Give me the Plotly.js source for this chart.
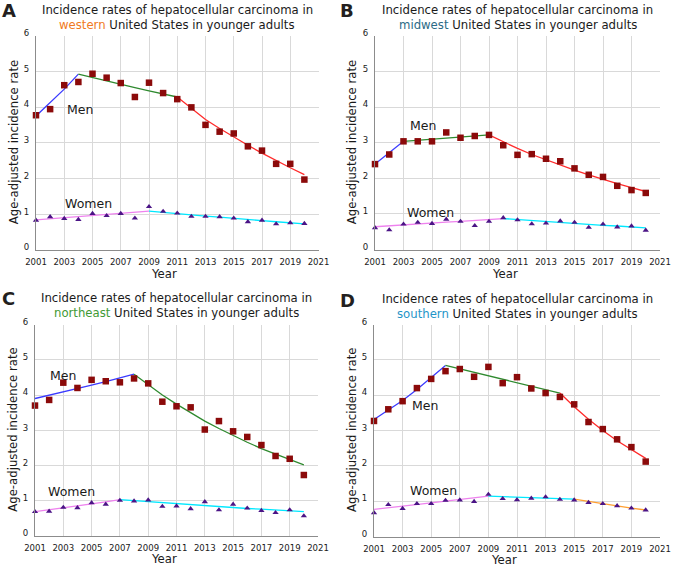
<!DOCTYPE html>
<html><head><meta charset="utf-8">
<script src="https://cdn.plot.ly/plotly-3.0.1.min.js"></script>
<style>html,body{margin:0;padding:0;background:#fff}#chart{width:674px;height:567px}</style>
</head><body><div id="chart"></div>
<script>
// ---------- data ----------
const years = [2001,2002,2003,2004,2005,2006,2007,2008,2009,2010,2011,2012,2013,2014,2015,2016,2017,2018,2019,2020];

const regions = ["western","midwest","northeast","southern"];
const panelLetters = ["A","B","C","D"];
const titleLine1 = "Incidence rates of hepatocellular carcinoma in";
const titleLine2Rest = " United States in younger adults";
const yTitle = "Age-adjusted incidence rate";
const xTitle = "Year";
const menLabel = "Men";
const womenLabel = "Women";

// observed rates
const menA   = [3.77,3.94,4.61,4.70,4.93,4.82,4.67,4.28,4.68,4.39,4.22,3.99,3.50,3.31,3.26,2.90,2.78,2.41,2.41,1.97];
const womenA = [0.83,0.93,0.88,0.85,1.02,0.96,1.02,0.89,1.21,1.08,1.03,0.94,0.94,0.93,0.89,0.79,0.83,0.73,0.76,0.74];
const menB   = [2.40,2.67,3.04,3.04,3.04,3.29,3.14,3.19,3.22,2.93,2.66,2.68,2.55,2.48,2.28,2.10,2.04,1.79,1.67,1.59];
const womenB = [0.61,0.55,0.71,0.76,0.73,0.85,0.79,0.67,0.79,0.89,0.83,0.72,0.74,0.80,0.76,0.62,0.71,0.63,0.66,0.54];
const menC   = [3.70,3.86,4.35,4.20,4.43,4.39,4.36,4.47,4.33,3.81,3.68,3.65,3.02,3.26,2.97,2.81,2.58,2.27,2.19,1.73];
const womenC = [0.69,0.70,0.81,0.80,0.94,0.90,1.01,0.99,1.02,0.84,0.85,0.77,0.97,0.74,0.90,0.79,0.72,0.66,0.74,0.57];
const menD   = [3.27,3.60,3.83,4.20,4.46,4.68,4.74,4.52,4.80,4.34,4.51,4.19,4.06,3.95,3.74,3.24,3.04,2.75,2.53,2.12];
const womenD = [0.67,0.90,0.79,0.93,0.93,1.02,1.03,0.99,1.19,1.07,1.04,1.08,1.12,1.05,1.03,0.96,0.93,0.87,0.80,0.75];

// joinpoint fitted values and segment break years
const fitMenA   = [3.75,4.12,4.50,4.92,4.82,4.73,4.63,4.54,4.45,4.36,4.28,3.97,3.65,3.40,3.16,2.93,2.71,2.50,2.30,2.11];
const breaksMenA = [2001,2004,2011,2020];
const fitWomenA = [0.84,0.87,0.90,0.93,0.96,0.99,1.02,1.05,1.09,1.05,1.02,0.98,0.95,0.92,0.88,0.85,0.82,0.79,0.76,0.73];
const breaksWomenA = [2001,2009,2020];

const fitMenB   = [2.40,2.71,3.04,3.07,3.10,3.13,3.16,3.19,3.22,3.02,2.84,2.67,2.52,2.37,2.23,2.10,1.97,1.85,1.74,1.63];
const breaksMenB = [2001,2003,2009,2020];
const fitWomenB = [0.64,0.67,0.69,0.72,0.74,0.77,0.79,0.82,0.84,0.87,0.84,0.81,0.79,0.76,0.74,0.71,0.68,0.66,0.63,0.61];
const breaksWomenB = [2001,2010,2020];

const fitMenC   = [3.90,3.99,4.08,4.18,4.28,4.38,4.48,4.59,4.29,4.00,3.74,3.49,3.26,3.05,2.85,2.66,2.48,2.32,2.17,2.02];
const breaksMenC = [2001,2008,2020];
const fitWomenC = [0.69,0.74,0.80,0.85,0.91,0.97,1.03,1.00,0.97,0.94,0.91,0.89,0.86,0.83,0.81,0.78,0.76,0.73,0.71,0.69];
const breaksWomenC = [2001,2007,2020];

const fitMenD   = [3.31,3.57,3.85,4.16,4.49,4.84,4.74,4.64,4.54,4.44,4.35,4.25,4.16,4.06,3.67,3.32,3.00,2.71,2.45,2.21];
const breaksMenD = [2001,2006,2014,2020];
const fitWomenD = [0.77,0.81,0.86,0.90,0.95,1.00,1.04,1.09,1.14,1.13,1.12,1.10,1.09,1.08,1.06,0.99,0.93,0.86,0.80,0.75];
const breaksWomenD = [2001,2009,2015,2020];

// label positions (data coords)
const menLabelPos   = [[2004.1,3.94],[2004.35,3.48],[2003.0,4.56],[2004.6,3.70]];
const womenLabelPos = [[2004.7,1.31],[2004.9,1.04],[2003.55,1.26],[2005.15,1.31]];

// ---------- styles ----------
const menSegColors = ["#3b3bff","#2f8a2f","#ff2b2b"];
const womenSegColors = ["#ee82ee","#00e8ff","#ffa033"];
const regionColors = ["#f07a22","#2b6a86","#3f9a35","#1f95c8"];
const FONT = "DejaVu Sans, Verdana, sans-serif";
const TICKFONT = "DejaVu Sans Condensed, DejaVu Sans, sans-serif";

const panels = [
  {men:menA, women:womenA, fm:fitMenA, bm:breaksMenA, fw:fitWomenA, bw:breaksWomenA},
  {men:menB, women:womenB, fm:fitMenB, bm:breaksMenB, fw:fitWomenB, bw:breaksWomenB},
  {men:menC, women:womenC, fm:fitMenC, bm:breaksMenC, fw:fitWomenC, bw:breaksWomenC},
  {men:menD, women:womenD, fm:fitMenD, bm:breaksMenD, fw:fitWomenD, bw:breaksWomenD}
];

// panel geometry in pixels (plot area)
const W = 674, H = 567;
const geo = [
  {x0:36,  x1:318.5, yTop:35.5, yBot:250},
  {x0:375, x1:660,   yTop:36,   yBot:249.5},
  {x0:35,  x1:318,   yTop:324.5,yBot:536},
  {x0:374, x1:660,   yTop:324.5,yBot:536.5}
];
const titleY = [[10,25],[10,25],[297.5,313],[299,314]];
const letterY = [10,10,298,300];
const letterX = [0,338,0,338];
const yearY = [274,274,559,560];

const traces = [];
const annotations = [];
const layout = {
  width: W, height: H,
  margin: {l:0, r:0, t:0, b:0},
  paper_bgcolor: "#fff", plot_bgcolor: "#fff",
  showlegend: false,
  font: {family: FONT, color: "#1a1a1a"},
  annotations: annotations
};

function segments(fit, breaks) {
  const segs = [];
  for (let s = 0; s < breaks.length - 1; s++) {
    const xs = [], ys = [];
    years.forEach((yr, i) => {
      if (yr >= breaks[s] && yr <= breaks[s+1]) { xs.push(yr); ys.push(fit[i]); }
    });
    segs.push({xs, ys});
  }
  return segs;
}

panels.forEach((p, k) => {
  const n = k + 1;
  const xa = n === 1 ? "x" : "x" + n;
  const ya = n === 1 ? "y" : "y" + n;
  const g = geo[k];
  layout[n === 1 ? "xaxis" : "xaxis" + n] = {
    domain: [g.x0 / W, g.x1 / W],
    anchor: ya,
    range: [2001, 2021],
    tick0: 2001, dtick: 2, tickmode: "linear",
    showgrid: true, gridcolor: "#d9d9d9", gridwidth: 1,
    showline: true, linecolor: "#8c8c8c", linewidth: 1,
    zeroline: false, ticks: "", fixedrange: true, ticklabelstandoff: 3,
    tickfont: {size: 9.5, family: TICKFONT, color: "#1a1a1a"}
  };
  layout[n === 1 ? "yaxis" : "yaxis" + n] = {
    domain: [1 - g.yBot / H, 1 - g.yTop / H],
    anchor: xa,
    range: [0, 6], dtick: 1, tick0: 0, tickmode: "linear",
    showgrid: true, gridcolor: "#d9d9d9", gridwidth: 1,
    showline: true, linecolor: "#8c8c8c", linewidth: 1,
    zeroline: false, ticks: "", fixedrange: true, ticklabelstandoff: 4, ticklabelshift: -3,
    tickfont: {size: 9.5, family: TICKFONT, color: "#1a1a1a"}
  };

  segments(p.fm, p.bm).forEach((s, i) => traces.push({
    type: "scatter", mode: "lines", x: s.xs, y: s.ys, xaxis: xa, yaxis: ya,
    line: {color: menSegColors[i], width: 1.3}, cliponaxis: false, hoverinfo: "skip"
  }));
  segments(p.fw, p.bw).forEach((s, i) => traces.push({
    type: "scatter", mode: "lines", x: s.xs, y: s.ys, xaxis: xa, yaxis: ya,
    line: {color: womenSegColors[i], width: 1.3}, cliponaxis: false, hoverinfo: "skip"
  }));
  traces.push({
    type: "scatter", mode: "markers", x: years, y: p.men, xaxis: xa, yaxis: ya,
    marker: {symbol: "square", size: 6.5, color: "#8b0a0a"}, cliponaxis: false
  });
  traces.push({
    type: "scatter", mode: "markers", x: years, y: p.women, xaxis: xa, yaxis: ya,
    marker: {symbol: "triangle-up", size: 5.5, color: "#4b1486"}, cliponaxis: false
  });

  const cx = (g.x0 + g.x1) / 2;
  // titles
  annotations.push({xref:"paper", yref:"paper", x: (cx) / W, y: 1 - titleY[k][0] / H,
    xanchor:"center", yanchor:"middle", showarrow:false, text: titleLine1,
    font:{size:11.7, family:FONT, color:"#1a1a1a"}});
  annotations.push({xref:"paper", yref:"paper", x: (cx) / W, y: 1 - titleY[k][1] / H,
    xanchor:"center", yanchor:"middle", showarrow:false,
    text: "<span style='color:" + regionColors[k] + "'>" + regions[k] + "</span>" + titleLine2Rest,
    font:{size:11.7, family:FONT, color:"#1a1a1a"}});
  // panel letter
  annotations.push({xref:"paper", yref:"paper", x: letterX[k] / W, y: 1 - letterY[k] / H,
    xanchor:"left", yanchor:"middle", showarrow:false, text: "<b>" + panelLetters[k] + "</b>",
    font:{size:18, family:FONT, color:"#231f20"}});
  // axis titles
  annotations.push({xref:"paper", yref:"paper", x: (letterX[k] + 13.5) / W, y: 1 - ((g.yTop + g.yBot) / 2) / H,
    xanchor:"center", yanchor:"middle", showarrow:false, text: yTitle, textangle: -90,
    font:{size:11.7, family:FONT, color:"#1a1a1a"}});
  annotations.push({xref:"paper", yref:"paper", x: (cx - 13) / W, y: 1 - yearY[k] / H,
    xanchor:"center", yanchor:"middle", showarrow:false, text: xTitle,
    font:{size:11.7, family:FONT, color:"#1a1a1a"}});
  // series labels
  annotations.push({xref:xa, yref:ya, x: menLabelPos[k][0], y: menLabelPos[k][1],
    xanchor:"center", yanchor:"middle", showarrow:false, text: menLabel,
    font:{size:12.5, family:FONT, color:"#1a1a1a"}});
  annotations.push({xref:xa, yref:ya, x: womenLabelPos[k][0], y: womenLabelPos[k][1],
    xanchor:"center", yanchor:"middle", showarrow:false, text: womenLabel,
    font:{size:12.5, family:FONT, color:"#1a1a1a"}});
});

Plotly.newPlot("chart", traces, layout, {staticPlot: true, displayModeBar: false});
</script>
</body></html>
